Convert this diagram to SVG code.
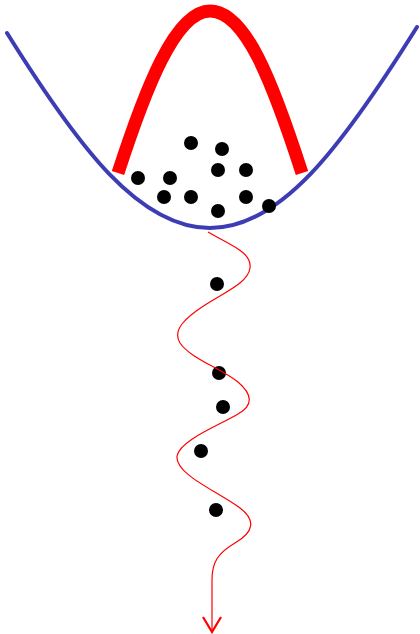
<svg xmlns="http://www.w3.org/2000/svg" width="420" height="634" viewBox="0 0 420 634">
<style>
.dot{fill:#000}
.well{fill:none;stroke:#3c3cb4;stroke-width:4;stroke-linecap:round}
.barrier{fill:none;stroke:#ff0000;stroke-width:13;stroke-linecap:butt}
.path{fill:none;stroke:#ff0000;stroke-width:1.2}
.arrow{fill:none;stroke:#ff0000;stroke-width:2.2}
</style>
<rect width="420" height="634" fill="#fff"/>
<g id="well"><path class="well" d="M7,33 C80,150 140,228 210,228 C280,228 340,150 417,27"/></g>
<g id="barrier"><path class="barrier" d="M118,173 C145,90 175,11 210,11 C245,11 272,80 302,173"/></g>
<g id="particles">
<circle class="dot" cx="191" cy="143" r="7"/>
<circle class="dot" cx="222" cy="149" r="7"/>
<circle class="dot" cx="218" cy="170" r="7"/>
<circle class="dot" cx="246" cy="170" r="7"/>
<circle class="dot" cx="138" cy="178" r="7"/>
<circle class="dot" cx="170" cy="178" r="7"/>
<circle class="dot" cx="164" cy="197" r="7"/>
<circle class="dot" cx="191" cy="197" r="7"/>
<circle class="dot" cx="246" cy="197" r="7"/>
<circle class="dot" cx="218" cy="211" r="7"/>
<circle class="dot" cx="269" cy="206" r="7"/>
<circle class="dot" cx="217" cy="284" r="7"/>
<circle class="dot" cx="219" cy="373" r="7"/>
<circle class="dot" cx="223" cy="407" r="7"/>
<circle class="dot" cx="201" cy="451" r="7"/>
<circle class="dot" cx="216" cy="510" r="7"/>
</g>
<g id="connectors">
<path class="path" d="M208,232 C230,245 252,252 250,268 C248,283 225,292 205,305 C185,318 172,330 180,343 C190,358 220,368 238,382 C252,394 254,405 238,414 C220,425 180,440 177,456 C175,474 215,490 240,508 C256,520 254,532 235,543 C218,553 212,562 212,580 L212,630"/>
<polyline class="arrow" points="203,617 212,632 221,617"/>
</g>
</svg>
